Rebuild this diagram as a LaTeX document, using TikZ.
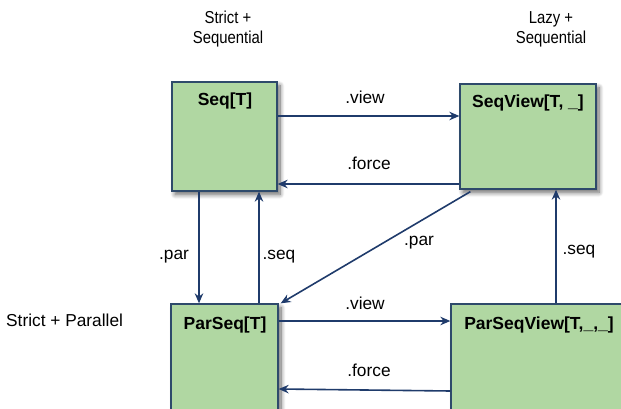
\documentclass[tikz,border=0pt]{standalone}
\usepackage{fontspec}
\setmainfont{Liberation Sans}
\usetikzlibrary{arrows.meta,shadows.blur}
\definecolor{boxfill}{RGB}{176,215,162}
\definecolor{boxline}{RGB}{46,74,107}
\definecolor{arrcol}{RGB}{31,59,107}
\newcommand{\narrowtxt}[1]{\scalebox{0.86}[1]{#1}}
\tikzset{
  box/.style={draw=boxline, line width=1.3pt, fill=boxfill, inner sep=0pt,
    blur shadow={shadow xshift=3pt, shadow yshift=-3.5pt, shadow blur radius=4.5pt, shadow blur steps=10, shadow opacity=60}},
  boxtitle/.style={font=\fontsize{17.5}{20}\selectfont\bfseries, inner sep=0pt},
  lbl/.style={font=\fontsize{17.3}{20}\selectfont, inner sep=0pt, align=center},
  head/.style={font=\fontsize{17.3}{20}\selectfont, inner sep=0pt, align=center},
  arr/.style={draw=arrcol, line width=1.6pt, -{Stealth[length=10pt,width=8.5pt]}}
}
\begin{document}
\begin{tikzpicture}[x=1pt,y=-1pt]
\useasboundingbox (0,0) rectangle (621,409);
% boxes
\node[box, minimum width=105, minimum height=109] (seq) at (224.5,136.5) {};
\node[box, minimum width=136, minimum height=105] (seqv) at (528,136.5) {};
\node[box, minimum width=107, minimum height=140] (parseq) at (224.5,374) {};
\node[box, minimum width=210, minimum height=140] (parseqv) at (556,374) {};
% titles
\node[boxtitle] (t1) at (225,101) {Seq[T]};
\node[boxtitle] (t2) at (528,103) {SeqView[T, \_]};
\node[boxtitle] (t3) at (225,325) {ParSeq[T]};
\node[boxtitle] (t4) at (539,325) {ParSeqView[T,\_,\_]};
% column / row headings
\node[head] (h1) at (228,29) {\narrowtxt{Strict +}\\\narrowtxt{Sequential}};
\node[head] (h2) at (551,29) {\narrowtxt{Lazy +}\\\narrowtxt{Sequential}};
\node[lbl, anchor=west] (h3) at (6,320) {Strict + Parallel};
% connectors
\draw[arr] (seq.east |- 0,116) -- (seqv.west |- 0,116);
\draw[arr] (seqv.west |- 0,184) -- (seq.east |- 0,184);
\draw[arr] (seq.south -| 199,0) -- (parseq.north -| 199,0);
\draw[arr] (parseq.north -| 259,0) -- (seq.south -| 259,0);
\draw[arr] ([xshift=11pt,yshift=-2pt]seqv.south west) -- ([xshift=2pt]parseq.north east);
\draw[arr] (parseqv.north) -- (parseqv.north |- seqv.south);
\draw[arr] (parseq.east |- 0,321) -- (parseqv.west |- 0,321);
\draw[arr] (parseqv.west |- 0,391) -- (parseq.east |- 0,389);
% connector labels
\node[lbl] (l1) at (365,97) {.view};
\node[lbl] (l2) at (369,163) {.force};
\node[lbl] (l3) at (174,257) {.par};
\node[lbl] (l4) at (279,257) {.seq};
\node[lbl] (l5) at (419,243) {.par};
\node[lbl] (l6) at (579,252) {.seq};
\node[lbl] (l7) at (365,303) {.view};
\node[lbl] (l8) at (369,370) {.force};
\end{tikzpicture}
\end{document}
